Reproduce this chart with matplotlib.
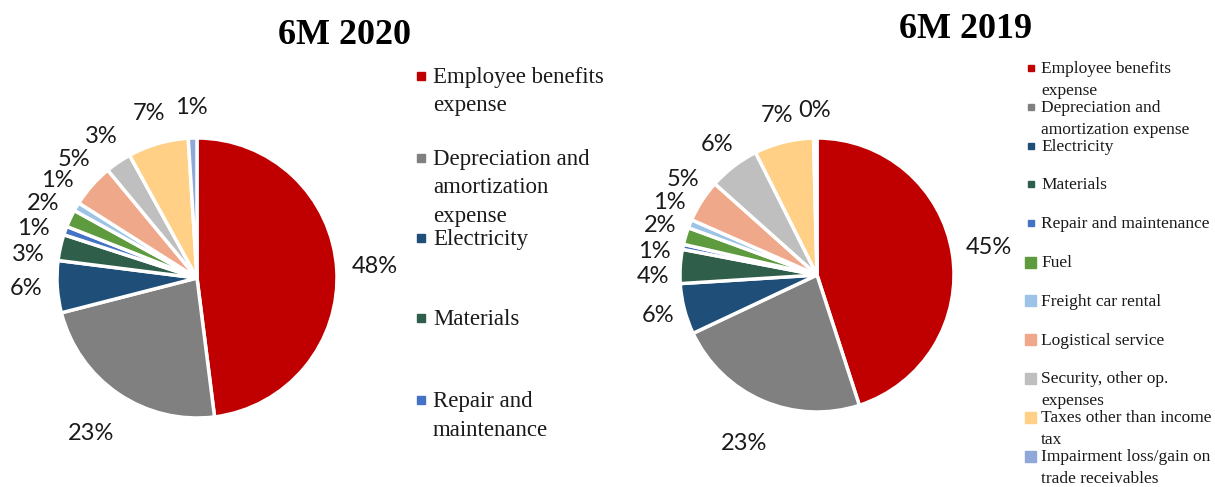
import matplotlib
matplotlib.use("Agg")
import matplotlib.pyplot as plt
from matplotlib.patches import Rectangle
import numpy as np

categories = ["Employee benefits expense", "Depreciation and amortization expense",
              "Electricity", "Materials", "Repair and maintenance", "Fuel",
              "Freight car rental", "Logistical service", "Security, other op. expenses",
              "Taxes other than income tax", "Impairment loss/gain on trade receivables"]
values_2020 = [48, 23, 6, 3, 1, 2, 1, 5, 3, 7, 1]
values_2019 = [45, 23, 6, 4, 0.6, 2, 1, 5, 6, 7, 0.4]
labels_2020 = ["48%", "23%", "6%", "3%", "1%", "2%", "1%", "5%", "3%", "7%", "1%"]
labels_2019 = ["45%", "23%", "6%", "4%", "1%", "2%", "1%", "5%", "6%", "7%", "0%"]
colors = ["#C00000", "#808080", "#1F4E79", "#2F5E4A", "#4472C4", "#5E9A3E",
          "#9DC3E6", "#F0A88A", "#BFBFBF", "#FFD086", "#8FA8D8"]

left_legend_labels = ["Employee benefits\nexpense", "Depreciation and\namortization\nexpense",
                      "Electricity", "Materials", "Repair and\nmaintenance"]
right_legend_labels = ["Employee benefits\nexpense", "Depreciation and\namortization expense",
                       "Electricity", "Materials", "Repair and maintenance", "Fuel",
                       "Freight car rental", "Logistical service", "Security, other op.\nexpenses",
                       "Taxes other than income\ntax", "Impairment loss/gain on\ntrade receivables"]

W, H = 1215, 487
fig = plt.figure(figsize=(W / 100, H / 100), dpi=100)
fig.patch.set_facecolor("white")

SERIF = ["Liberation Serif", "DejaVu Serif"]
SANS = ["Lato", "DejaVu Sans"]
TXT = "#1a1a1a"


def pie_axes(cx, cy, r):
    ax = fig.add_axes([(cx - r) / W, (H - cy - r) / H, 2 * r / W, 2 * r / H])
    return ax


def spread(angles, min_sep, iters=300):
    a = np.array(angles, dtype=float)
    order = np.argsort(a)
    for _ in range(iters):
        moved = False
        for k in range(len(order) - 1):
            i, j = order[k], order[k + 1]
            gap = a[j] - a[i]
            if gap < min_sep:
                d = (min_sep - gap) / 2
                a[i] -= d
                a[j] += d
                moved = True
        if not moved:
            break
    return a


def draw_pie(ax, vals, labs, big_r, small_r, min_sep):
    wedges, _ = ax.pie(vals, colors=colors, startangle=90, counterclock=False, radius=1,
                       wedgeprops=dict(edgecolor="white", linewidth=2.5))
    ax.set_xlim(-1, 1)
    ax.set_ylim(-1, 1)
    ax.set_aspect("equal")
    ax.axis("off")
    mids = [((w.theta1 + w.theta2) / 2) % 360 for w in wedges]
    # crowded labels (slice index >= 2) are spread apart angularly
    small_idx = list(range(2, len(wedges)))
    new = spread([mids[i] for i in small_idx], min_sep)
    for i, ang in zip(small_idx, new):
        mids[i] = ang
    for i, (ang, lab) in enumerate(zip(mids, labs)):
        r = big_r[i] if i < 2 else small_r
        t = np.deg2rad(ang)
        ax.text(r * np.cos(t), r * np.sin(t), lab, ha="center", va="center",
                fontsize=17, family=SANS, color=TXT, clip_on=False)


ax1 = pie_axes(197, 278, 140)
draw_pie(ax1, values_2020, labels_2020, [1.27, 1.34], 1.22, 9.0)
ax2 = pie_axes(817, 275, 137)
draw_pie(ax2, values_2019, labels_2019, [1.27, 1.34], 1.2, 9.0)

fig.text(345 / W, 1 - 36 / H, "6M 2020", ha="center", va="center", fontsize=26,
         fontweight="bold", family=SERIF)
fig.text(965 / W, 1 - 30 / H, "6M 2019", ha="center", va="center", fontsize=26,
         fontweight="bold", family=SERIF)


def legend_entry(x_mark, x_text, y, size, color, label, fs, line_h, base_off):
    fig.patches.append(Rectangle(((x_mark - size / 2) / W, 1 - (y + size / 2) / H),
                                 size / W, size / H, transform=fig.transFigure,
                                 color=color))
    for k, line in enumerate(label.split("\n")):
        fig.text(x_text / W, 1 - (y + base_off + k * line_h) / H, line, ha="left",
                 va="baseline", fontsize=fs, family=SERIF, color=TXT)


# left legend
left_y = [76, 158, 238, 318, 400]
for i, (lab, y) in enumerate(zip(left_legend_labels, left_y)):
    legend_entry(421, 433, y, 8, colors[i], lab, 16.5, 28.5, 7)

# right legend
for i, lab in enumerate(right_legend_labels):
    y = 68 + i * 38.8
    s = 6 if i < 5 else 11
    legend_entry(1031 if i < 5 else 1030, 1041, y, s, colors[i], lab, 12.5, 22, 5)

fig.savefig("out.png", dpi=100)
